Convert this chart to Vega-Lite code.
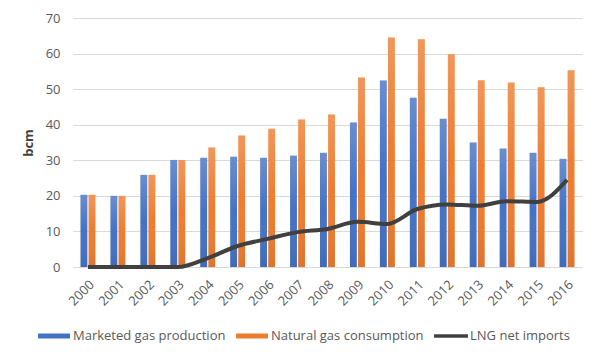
{
  "$schema": "https://vega.github.io/schema/vega-lite/v6.json",
  "width": 509,
  "height": 249,
  "autosize": {"type": "none"},
  "padding": {"left": 73, "top": 18, "right": 18, "bottom": 93},
  "background": "white",
  "config": {
    "font": "Open Sans",
    "view": {"stroke": null},
    "axis": {"labelColor": "#595959", "labelFontSize": 13, "titleColor": "#404040", "gridColor": "#D9D9D9", "domainColor": "#D9D9D9", "ticks": false}
  },
  "datasets": {
    "bars": [
      {"year": "2000", "series": "Marketed gas production", "value": 20.3},
      {"year": "2001", "series": "Marketed gas production", "value": 20.0},
      {"year": "2002", "series": "Marketed gas production", "value": 25.9},
      {"year": "2003", "series": "Marketed gas production", "value": 30.1},
      {"year": "2004", "series": "Marketed gas production", "value": 30.7},
      {"year": "2005", "series": "Marketed gas production", "value": 31.0},
      {"year": "2006", "series": "Marketed gas production", "value": 30.7},
      {"year": "2007", "series": "Marketed gas production", "value": 31.3},
      {"year": "2008", "series": "Marketed gas production", "value": 32.1},
      {"year": "2009", "series": "Marketed gas production", "value": 40.6},
      {"year": "2010", "series": "Marketed gas production", "value": 52.4},
      {"year": "2011", "series": "Marketed gas production", "value": 47.6},
      {"year": "2012", "series": "Marketed gas production", "value": 41.7},
      {"year": "2013", "series": "Marketed gas production", "value": 35.0},
      {"year": "2014", "series": "Marketed gas production", "value": 33.3},
      {"year": "2015", "series": "Marketed gas production", "value": 32.1},
      {"year": "2016", "series": "Marketed gas production", "value": 30.4},
      {"year": "2000", "series": "Natural gas consumption", "value": 20.3},
      {"year": "2001", "series": "Natural gas consumption", "value": 20.0},
      {"year": "2002", "series": "Natural gas consumption", "value": 25.9},
      {"year": "2003", "series": "Natural gas consumption", "value": 30.1},
      {"year": "2004", "series": "Natural gas consumption", "value": 33.6},
      {"year": "2005", "series": "Natural gas consumption", "value": 37.0},
      {"year": "2006", "series": "Natural gas consumption", "value": 38.9},
      {"year": "2007", "series": "Natural gas consumption", "value": 41.5},
      {"year": "2008", "series": "Natural gas consumption", "value": 42.9},
      {"year": "2009", "series": "Natural gas consumption", "value": 53.3},
      {"year": "2010", "series": "Natural gas consumption", "value": 64.5},
      {"year": "2011", "series": "Natural gas consumption", "value": 64.0},
      {"year": "2012", "series": "Natural gas consumption", "value": 59.8},
      {"year": "2013", "series": "Natural gas consumption", "value": 52.5},
      {"year": "2014", "series": "Natural gas consumption", "value": 51.9},
      {"year": "2015", "series": "Natural gas consumption", "value": 50.5},
      {"year": "2016", "series": "Natural gas consumption", "value": 55.3}
    ],
    "lng": [
      {"year": "2000", "series": "LNG net imports", "value": 0},
      {"year": "2001", "series": "LNG net imports", "value": 0},
      {"year": "2002", "series": "LNG net imports", "value": 0},
      {"year": "2003", "series": "LNG net imports", "value": 0},
      {"year": "2004", "series": "LNG net imports", "value": 2.5},
      {"year": "2005", "series": "LNG net imports", "value": 5.9},
      {"year": "2006", "series": "LNG net imports", "value": 7.9},
      {"year": "2007", "series": "LNG net imports", "value": 9.8},
      {"year": "2008", "series": "LNG net imports", "value": 10.7},
      {"year": "2009", "series": "LNG net imports", "value": 12.7},
      {"year": "2010", "series": "LNG net imports", "value": 12.1},
      {"year": "2011", "series": "LNG net imports", "value": 16.3},
      {"year": "2012", "series": "LNG net imports", "value": 17.6},
      {"year": "2013", "series": "LNG net imports", "value": 17.2},
      {"year": "2014", "series": "LNG net imports", "value": 18.5},
      {"year": "2015", "series": "LNG net imports", "value": 18.3},
      {"year": "2016", "series": "LNG net imports", "value": 24.5}
    ]
  },
  "encoding": {
    "x": {
      "field": "year", "type": "nominal",
      "scale": {"paddingInner": 0.5, "paddingOuter": 0.25},
      "axis": {"title": null, "labelAngle": -45, "labelPadding": 11, "grid": false}
    }
  },
  "layer": [
    {
      "data": {"name": "bars"},
      "mark": {"type": "bar"},
      "encoding": {
        "xOffset": {"field": "series", "type": "nominal", "scale": {"paddingInner": 0.15}},
        "y": {
          "field": "value", "type": "quantitative",
          "scale": {"domain": [0, 70]},
          "axis": {"title": "bcm", "titleFontWeight": "bold", "titleFontSize": 13, "tickCount": 7, "domain": false, "labelPadding": 13, "titlePadding": 10}
        },
        "color": {
          "field": "series", "type": "nominal",
          "scale": {"domain": ["Marketed gas production", "Natural gas consumption", "LNG net imports"], "range": ["#4472C4", "#ED7D31", "#404040"]},
          "legend": {
            "title": null, "orient": "none", "legendX": -35, "legendY": 302, "direction": "horizontal",
            "labelFontSize": 13, "labelColor": "#595959", "symbolSize": 1024, "symbolStrokeWidth": 0,
            "columnPadding": 10, "labelOffset": 3,
            "encode": {
              "symbols": {
                "update": {
                  "shape": {"signal": "datum.value === 'LNG net imports' ? 'M-1.06,-0.11H1.06V0.11H-1.06Z' : 'M-1,-0.156H1V0.156H-1Z'"},
                  "fill": {"scale": "color", "field": "value"},
                  "opacity": {"value": 1},
                  "strokeWidth": {"value": 0}
                }
              }
            }
          }
        }
      }
    },
    {
      "data": {"name": "bars"},
      "mark": {"type": "bar", "fill": {"gradient": "linear", "x1": 0, "y1": 0, "x2": 0, "y2": 1, "stops": [{"offset": 0, "color": "rgba(255,255,255,0.2)"}, {"offset": 0.5, "color": "rgba(255,255,255,0)"}, {"offset": 1, "color": "rgba(0,0,0,0.07)"}]}},
      "encoding": {
        "xOffset": {"field": "series", "type": "nominal", "scale": {"paddingInner": 0.15}},
        "y": {"field": "value", "type": "quantitative"}
      }
    },
    {
      "data": {"name": "lng"},
      "mark": {"type": "line", "strokeWidth": 4, "interpolate": "monotone"},
      "encoding": {
        "y": {"field": "value", "type": "quantitative"},
        "color": {"field": "series", "type": "nominal"}
      }
    }
  ]
}
